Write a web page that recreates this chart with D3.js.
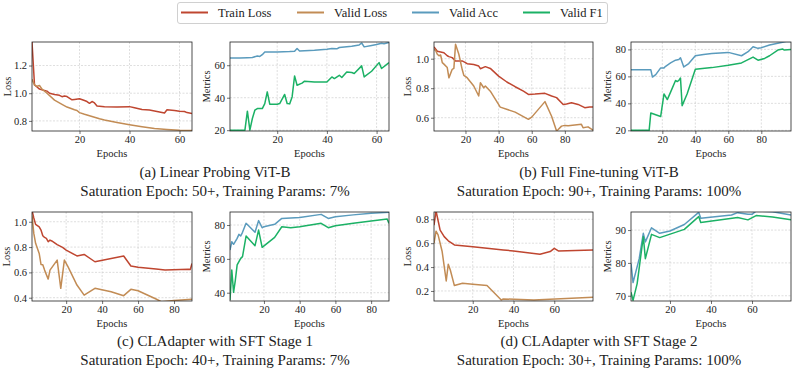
<!DOCTYPE html>
<html>
<head>
<meta charset="utf-8">
<script src="https://cdn.jsdelivr.net/npm/d3@7"></script>
<style>
  body { margin: 0; background: #fff; }
  svg text { font-family: "Times New Roman", Times, "Liberation Serif", serif; fill: #222; }
  .grid line { stroke: #c8c8c8; stroke-width: 0.6; stroke-dasharray: 2,1.5; }
</style>
</head>
<body>
<script>
// (a) Linear Probing ViT-B
var a_trainLoss = [[1,1.37],[2,1.06],[3,1.045],[4,1.03],[5,1.024],[6,1.02],[7,1.015],[8,1.0],[10,0.99],[12,0.985],[13,0.975],[14,0.98],[15,0.976],[17,0.952],[18,0.955],[20,0.96],[22,0.947],[23,0.94],[24,0.927],[25,0.94],[26,0.93],[27,0.908],[30,0.903],[35,0.9],[40,0.903],[42,0.895],[45,0.882],[48,0.878],[50,0.872],[52,0.865],[54,0.857],[55,0.88],[58,0.875],[60,0.87],[62,0.868],[63,0.86],[65,0.853]];
var a_validLoss = [[1,1.1],[2,1.06],[3,1.05],[4,1.056],[5,1.03],[7,1.0],[10,0.95],[13,0.92],[15,0.9],[18,0.88],[19,0.875],[20,0.86],[22,0.848],[25,0.832],[28,0.815],[30,0.806],[35,0.788],[40,0.772],[45,0.758],[50,0.745],[55,0.738],[60,0.733],[65,0.73]];
var a_validAcc = [[1,64.5],[5,64.4],[8,64.6],[10,64.8],[12,65.7],[13,65.4],[14,66.5],[15,68.2],[20,68.2],[25,68.4],[27,68.6],[28,70.3],[29,68.8],[35,69.2],[40,69.8],[42,70.3],[44,70.1],[45,70.9],[48,71.4],[50,71.7],[53,72.5],[54,73.7],[55,71.3],[58,72.2],[60,72.7],[62,73.5],[63,73.2],[65,74]];
var a_validF1 = [[1,20],[7,20],[8,31.7],[9,20],[10,27.2],[11,32.3],[12,33.3],[14,33.3],[15,36.4],[16,43.6],[17,36],[20,36],[21,36.4],[23,42],[24,36.4],[25,36.2],[26,40.5],[27,53.4],[28,47.7],[30,49],[31,50.2],[35,49.7],[40,49.7],[42,52.8],[43,51.8],[45,53.8],[46,52.4],[48,55.9],[50,55.5],[51,54.9],[54,59.6],[55,52.8],[58,56.3],[61,61.6],[62,58],[64,60.4],[65,61.6]];

// (b) Full Fine-tuning ViT-B
var b_trainLoss = [[1,1.08],[3,1.05],[5,1.045],[7,1.04],[9,1.02],[10,1.014],[12,1.007],[14,0.984],[18,0.985],[20,0.973],[21,0.966],[25,0.96],[28,0.95],[29,0.932],[32,0.946],[35,0.934],[40,0.882],[45,0.842],[50,0.81],[55,0.78],[58,0.758],[62,0.76],[68,0.765],[72,0.747],[75,0.736],[79,0.69],[81,0.693],[84,0.702],[88,0.69],[92,0.668],[95,0.673],[97,0.672]];
var b_validLoss = [[1,1.063],[2,1.055],[3,1.03],[4,1.02],[5,1.025],[6,0.973],[7,0.963],[9,0.94],[10,0.87],[12,0.928],[13,0.934],[14,1.097],[16,1.03],[18,0.928],[19,0.887],[21,0.871],[25,0.815],[28,0.747],[29,0.837],[30,0.82],[31,0.803],[32,0.815],[35,0.78],[41,0.672],[50,0.638],[58,0.589],[60,0.604],[68,0.709],[72,0.61],[75,0.51],[76,0.52],[78,0.543],[80,0.548],[82,0.545],[90,0.555],[91,0.532],[94,0.538],[97,0.516]];
var b_validAcc = [[1,65],[13,65],[14,59.5],[16,61.3],[19,66.3],[21,66.3],[22,67.5],[25,70],[28,72],[30,72.5],[31,73.8],[33,67],[36,69.5],[40,75.3],[45,76.3],[50,77],[60,77.8],[68,75.3],[72,78.3],[75,82],[78,80.8],[80,81.3],[85,83.3],[90,84.5],[95,85.8],[98,85.8]];
var b_validF1 = [[1,20],[12,20],[13,32.8],[19,30.3],[21,47],[23,42.8],[25,48.3],[28,57],[29,56.2],[30,57],[31,58.8],[32,38.3],[35,47],[40,65.3],[50,66.5],[60,68.3],[68,70],[75,74.3],[78,72],[82,73.3],[85,75.3],[90,79.5],[93,80.3],[94,79.5],[98,80]];

// (c) CLAdapter with SFT Stage 1
var c_trainLoss = [[1,1.09],[2,1.03],[3,0.979],[5,0.96],[6,0.934],[7,0.89],[8,0.876],[9,0.868],[10,0.842],[11,0.855],[12,0.848],[15,0.82],[18,0.797],[20,0.776],[26,0.73],[30,0.742],[36,0.684],[52,0.729],[56,0.65],[60,0.64],[70,0.626],[75,0.618],[88,0.624],[89,0.622],[90,0.67]];
var c_validLoss = [[1,1.05],[2,0.908],[3,0.83],[5,0.75],[6,0.663],[7,0.66],[8,0.618],[10,0.547],[11,0.618],[15,0.697],[17,0.474],[19,0.697],[21,0.645],[26,0.5],[30,0.42],[36,0.474],[45,0.447],[52,0.416],[56,0.466],[60,0.455],[70,0.39],[73,0.368],[80,0.378],[90,0.387]];
var c_validAcc = [[1,65.2],[2,70.1],[3,68.6],[5,72.1],[6,74.5],[7,73.5],[8,75.7],[10,81],[15,75.7],[17,82.6],[19,78.4],[20,79],[26,80.4],[30,83.9],[40,84.5],[52,86.3],[56,83.9],[60,84.9],[70,86],[80,86.9],[90,87.5]];
var c_validF1 = [[1,35.7],[2,53.4],[3,40.2],[4,47.5],[5,56.4],[7,60.3],[8,61.3],[10,73.5],[15,67.8],[17,77],[19,66.8],[26,72.7],[30,79],[35,78.4],[40,79],[52,81],[56,78.4],[60,79.6],[70,81],[80,82.4],[89,83.5],[90,81]];

// (d) CLAdapter with SFT Stage 2
var d_trainLoss = [[1,0.75],[2,0.87],[3,0.79],[4,0.71],[6,0.655],[8,0.62],[11,0.585],[20,0.571],[27,0.557],[35,0.543],[40,0.535],[53,0.507],[58,0.53],[60,0.557],[62,0.535],[79,0.543]];
var d_validLoss = [[1,0.6],[2,0.7],[3,0.67],[5,0.53],[7,0.284],[8,0.424],[9,0.376],[11,0.245],[15,0.265],[20,0.256],[27,0.245],[34,0.125],[35,0.133],[50,0.125],[79,0.147]];
var d_validAcc = [[1,79.8],[2,74],[5,81.3],[7,89],[8,86.4],[11,90.7],[15,89],[20,89.7],[27,91.7],[34,95.4],[35,93.6],[50,94.6],[53,95.3],[58,94.8],[60,94.8],[62,95.8],[70,95.6],[79,94.6]];
var d_validF1 = [[1,71.1],[2,68.6],[4,73.7],[7,88],[8,81.3],[11,88.7],[15,87.7],[27,90.2],[34,94.1],[35,92.3],[53,93.8],[58,93.1],[62,94.4],[70,94],[79,93.1]];

var legendNames = ["Train Loss", "Valid Loss", "Valid Acc", "Valid F1"];
var colors = ["#bf4630", "#c28c55", "#5a9bbd", "#1bb165"];

var captions = [
    ["(a) Linear Probing ViT-B", "Saturation Epoch: 50+, Training Params: 7%"],
    ["(b) Full Fine-tuning ViT-B", "Saturation Epoch: 90+, Training Params: 100%"],
    ["(c) CLAdapter with SFT Stage 1", "Saturation Epoch: 40+, Training Params: 7%"],
    ["(d) CLAdapter with SFT Stage 2", "Saturation Epoch: 30+, Training Params: 100%"]
];

var serif = "'Times New Roman', Times, 'Liberation Serif', serif";

// one entry per axes: x0,x1,y0,y1 box, domains, ticks and series
var panels = [
    { box: [32, 192, 42, 131], xd: [1, 65], yd: [0.727, 1.37], xt: [20, 40, 60], yt: [0.8, 1.0, 1.2], label: "Loss", lx: 11, series: [[a_trainLoss, 0], [a_validLoss, 1]] },
    { box: [230, 389, 42, 131], xd: [1, 65], yd: [19.5, 74.3], xt: [20, 40, 60], yt: [20, 40, 60], label: "Metrics", lx: 210, series: [[a_validAcc, 2], [a_validF1, 3]] },
    { box: [434, 593, 42, 131], xd: [1, 97], yd: [0.51, 1.113], xt: [20, 40, 60, 80], yt: [0.6, 0.8, 1.0], label: "Loss", lx: 411, series: [[b_trainLoss, 0], [b_validLoss, 1]] },
    { box: [631, 791, 42, 131], xd: [1, 98], yd: [19.5, 85.5], xt: [20, 40, 60, 80], yt: [20, 40, 60, 80], label: "Metrics", lx: 611, series: [[b_validAcc, 2], [b_validF1, 3]] },
    { box: [32, 192, 212, 301], xd: [1, 90], yd: [0.374, 1.077], xt: [20, 40, 60, 80], yt: [0.4, 0.6, 0.8, 1.0], label: "Loss", lx: 10, series: [[c_trainLoss, 0], [c_validLoss, 1]] },
    { box: [230, 389, 212, 301], xd: [1, 90], yd: [35.1, 87.7], xt: [20, 40, 60, 80], yt: [40, 60, 80], label: "Metrics", lx: 210, series: [[c_validAcc, 2], [c_validF1, 3]] },
    { box: [434, 593, 212, 301], xd: [1, 79], yd: [0.116, 0.861], xt: [20, 40, 60], yt: [0.2, 0.4, 0.6, 0.8], label: "Loss", lx: 411, series: [[d_trainLoss, 0], [d_validLoss, 1]] },
    { box: [631, 791, 212, 301], xd: [1, 79], yd: [68.4, 95.5], xt: [20, 40, 60], yt: [70, 80, 90], label: "Metrics", lx: 611, series: [[d_validAcc, 2], [d_validF1, 3]] }
];

var width = 793, height = 372;

var svg = d3.select("body").append("svg")
    .attr("width", width)
    .attr("height", height)
    .attr("font-family", serif);

var defs = svg.append("defs");

panels.forEach(function (p, i) {
    var x = d3.scaleLinear().domain(p.xd).range([p.box[0], p.box[1]]);
    var y = d3.scaleLinear().domain(p.yd).range([p.box[3], p.box[2]]);
    var isLoss = p.label === "Loss";
    var g = svg.append("g");

    defs.append("clipPath").attr("id", "clip" + i)
        .append("rect")
        .attr("x", p.box[0]).attr("y", p.box[2])
        .attr("width", p.box[1] - p.box[0]).attr("height", p.box[3] - p.box[2]);

    // grid
    var grid = g.append("g").attr("class", "grid");
    grid.selectAll(".gx").data(p.xt).enter().append("line")
        .attr("x1", d => x(d)).attr("x2", d => x(d))
        .attr("y1", p.box[2]).attr("y2", p.box[3]);
    grid.selectAll(".gy").data(p.yt).enter().append("line")
        .attr("x1", p.box[0]).attr("x2", p.box[1])
        .attr("y1", d => y(d)).attr("y2", d => y(d));

    // lines
    var line = d3.line().x(d => x(d[0])).y(d => y(d[1]));
    g.append("g").attr("clip-path", "url(#clip" + i + ")")
        .selectAll("path").data(p.series).enter().append("path")
        .attr("d", d => line(d[0]))
        .attr("fill", "none")
        .attr("stroke", d => colors[d[1]])
        .attr("stroke-width", 1.5)
        .attr("stroke-linejoin", "round");

    // axes
    var xAxis = d3.axisBottom(x).tickValues(p.xt).tickSize(3).tickPadding(2).tickFormat(d3.format("d"));
    var yAxis = d3.axisLeft(y).tickValues(p.yt).tickSize(3).tickPadding(2).tickFormat(isLoss ? d3.format(".1f") : d3.format("d"));
    var gx = g.append("g").attr("transform", "translate(0," + p.box[3] + ")").call(xAxis);
    var gy = g.append("g").attr("transform", "translate(" + p.box[0] + ",0)").call(yAxis);
    [gx, gy].forEach(function (a) {
        a.attr("font-family", serif).attr("font-size", 10.5);
        a.select(".domain").remove();
        a.selectAll("line").attr("stroke", "#333").attr("stroke-width", 0.7);
        a.selectAll("text").attr("fill", "#222");
    });

    // frame
    g.append("rect")
        .attr("x", p.box[0]).attr("y", p.box[2])
        .attr("width", p.box[1] - p.box[0]).attr("height", p.box[3] - p.box[2])
        .attr("fill", "none").attr("stroke", "#222").attr("stroke-width", 0.8);

    g.append("text")
        .attr("x", (p.box[0] + p.box[1]) / 2).attr("y", p.box[3] + 26)
        .attr("text-anchor", "middle").attr("font-size", "10.5px")
        .text("Epochs");

    g.append("text")
        .attr("transform", "translate(" + p.lx + "," + (p.box[2] + p.box[3]) / 2 + ") rotate(-90)")
        .attr("text-anchor", "middle").attr("font-size", "10.5px")
        .text(p.label);
});

// captions
var capPos = [[215, 177], [599, 177], [215, 346], [599, 346]];
captions.forEach(function (c, i) {
    var t = svg.append("text")
        .attr("text-anchor", "middle").attr("font-size", "15px");
    t.append("tspan").attr("x", capPos[i][0]).attr("y", capPos[i][1]).text(c[0]);
    t.append("tspan").attr("x", capPos[i][0]).attr("y", capPos[i][1] + 19).text(c[1]);
});

// legend
var legend = svg.append("g");
legend.append("rect")
    .attr("x", 177.5).attr("y", 2.5).attr("width", 430).attr("height", 21)
    .attr("rx", 2.5).attr("fill", "#fff").attr("stroke", "#d0d0d0").attr("stroke-width", 1);
var legX = [181, 297, 412, 523];
var items = legend.selectAll(".item").data(legendNames).enter().append("g");
items.append("line")
    .attr("x1", (d, i) => legX[i]).attr("x2", (d, i) => legX[i] + 27)
    .attr("y1", 12.5).attr("y2", 12.5)
    .attr("stroke", (d, i) => colors[i]).attr("stroke-width", 2);
items.append("text")
    .attr("x", (d, i) => legX[i] + 37).attr("y", 17)
    .attr("font-size", "12.5px")
    .text(d => d);
</script>
</body>
</html>
